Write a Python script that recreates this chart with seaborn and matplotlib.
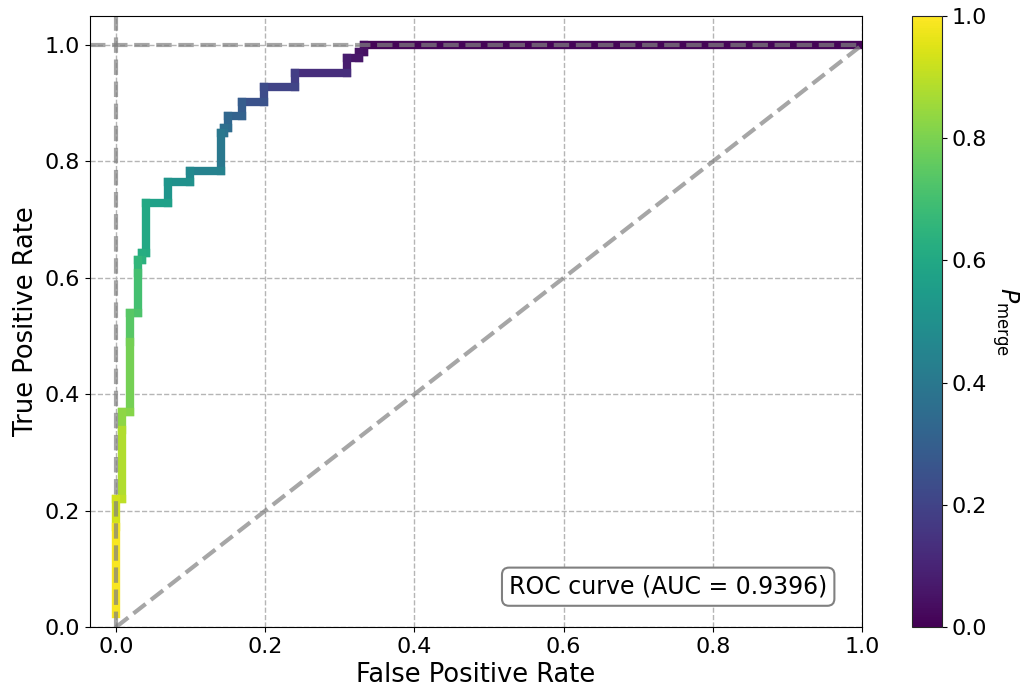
import numpy as np
import pandas as pd
import matplotlib
matplotlib.use("Agg")
import matplotlib.pyplot as plt
import seaborn as sns

# ROC points (step curve), threshold of each point
fpr = [0.000, 0.000, 0.000, 0.008, 0.008, 0.008, 0.019, 0.019, 0.019,
       0.030, 0.030, 0.030, 0.035, 0.035, 0.040, 0.040, 0.070, 0.070,
       0.099, 0.099, 0.140, 0.140, 0.145, 0.145, 0.150, 0.150, 0.169,
       0.169, 0.198, 0.198, 0.240, 0.240, 0.310, 0.310, 0.326, 0.326,
       0.333, 0.333, 1.000]
tpr = [0.022, 0.172, 0.220, 0.220, 0.338, 0.370, 0.370, 0.490, 0.540,
       0.540, 0.608, 0.630, 0.630, 0.642, 0.642, 0.729, 0.729, 0.764,
       0.764, 0.783, 0.783, 0.849, 0.849, 0.857, 0.857, 0.878, 0.878,
       0.902, 0.902, 0.928, 0.928, 0.952, 0.952, 0.978, 0.978, 0.988,
       0.988, 1.000, 1.000]
thr = [1.000, 0.990, 0.930, 0.900, 0.880, 0.830, 0.820, 0.790, 0.740,
       0.720, 0.700, 0.660, 0.640, 0.620, 0.610, 0.600, 0.570, 0.520,
       0.500, 0.470, 0.440, 0.400, 0.380, 0.360, 0.350, 0.330, 0.310,
       0.290, 0.250, 0.230, 0.200, 0.180, 0.130, 0.080, 0.060, 0.050,
       0.040, 0.030, 0.010]
auc_value = 0.9396

rows = []
for i in range(1, len(fpr)):
    rows.append({"seg": i, "fpr": fpr[i - 1], "tpr": tpr[i - 1], "thr": thr[i]})
    rows.append({"seg": i, "fpr": fpr[i], "tpr": tpr[i], "thr": thr[i]})
df = pd.DataFrame(rows)

sns.set_style("ticks")
plt.rcParams["font.family"] = ["DejaVu Sans"]
plt.rcParams["text.color"] = "black"
plt.rcParams["axes.labelcolor"] = "black"
plt.rcParams["xtick.color"] = "black"
plt.rcParams["ytick.color"] = "black"

fig = plt.figure(figsize=(10.26, 6.93), dpi=100)
ax = fig.add_axes([0.0877, 0.0952, 0.7524, 0.8817])
cax = fig.add_axes([0.889, 0.0952, 0.0292, 0.8817])

ax.grid(True, linestyle="--", color="#b5b5b5", linewidth=1)
ax.set_axisbelow(True)

sns.lineplot(data=df, x="fpr", y="tpr", hue="thr", units="seg", estimator=None,
             palette="viridis", hue_norm=(0, 1), linewidth=6, sort=False,
             legend=False, ax=ax, solid_capstyle="projecting")

ax.plot([0, 1], [0, 1], linestyle="--", color="gray", alpha=0.7, linewidth=3)
ax.axvline(0, linestyle="--", color="gray", alpha=0.7, linewidth=3)
ax.axhline(1, linestyle="--", color="gray", alpha=0.7, linewidth=3)

ax.set_xlim(-0.035, 1.0)
ax.set_ylim(0, 1.05)
ax.set_xlabel("False Positive Rate", fontsize=18.5)
ax.set_ylabel("True Positive Rate", fontsize=18.5)
ax.tick_params(labelsize=16)
for s in ax.spines.values():
    s.set_color("black")

ax.text(0.749, 0.066, "ROC curve (AUC = %.4f)" % auc_value, transform=ax.transAxes,
        ha="center", va="center", fontsize=17,
        bbox=dict(boxstyle="round,pad=0.3", facecolor="white", edgecolor="gray", linewidth=1.5))

sm = plt.cm.ScalarMappable(cmap="viridis", norm=plt.Normalize(0, 1))
cb = fig.colorbar(sm, cax=cax)
cb.set_ticks([0, 0.2, 0.4, 0.6, 0.8, 1.0])
cb.ax.tick_params(labelsize=16)
cb.set_label(r"$P_{\rm merge}$", rotation=270, fontsize=17, labelpad=24)

fig.savefig("out.png", dpi=100)
